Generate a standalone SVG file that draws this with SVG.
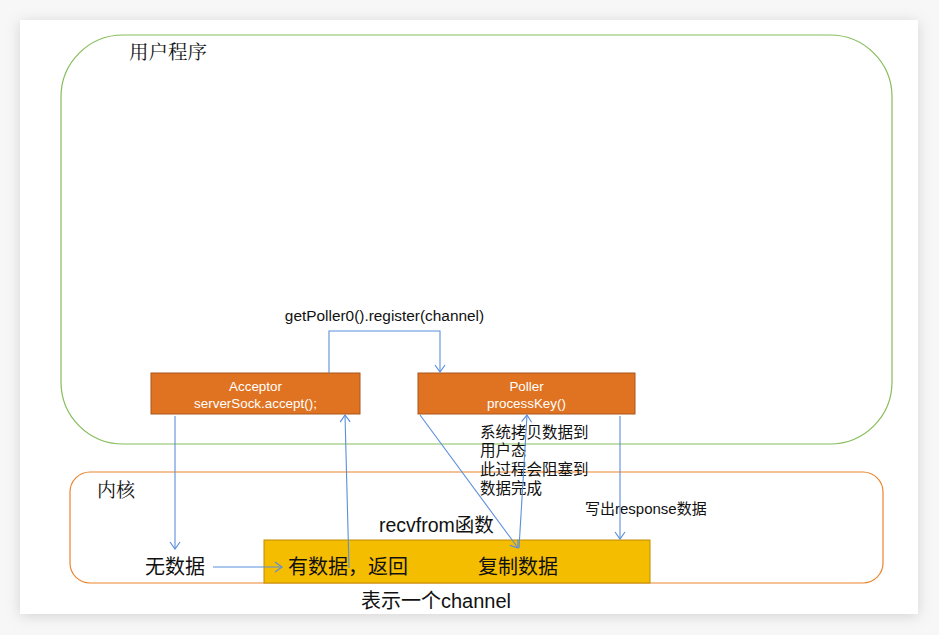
<svg xmlns="http://www.w3.org/2000/svg" width="939" height="635" viewBox="0 0 939 635">
<defs>
<filter id="sh" x="-10%" y="-10%" width="120%" height="120%"><feGaussianBlur stdDeviation="7"/></filter>
<marker id="ah" markerWidth="12" markerHeight="12" refX="10" refY="6" orient="auto" markerUnits="userSpaceOnUse"><path d="M3,1 L10,6 L3,11" fill="none" stroke="#5b8fdc" stroke-width="1.2"/></marker>
<style>
.cn{fill:none;stroke:#5b8fdc;stroke-width:1.1}
.ob{fill:#e07322;stroke:#a9561a;stroke-width:1}
.wt{font-family:"Liberation Sans","Noto Sans CJK SC",sans-serif;font-size:13.4px;fill:#fff;text-anchor:middle}
.t{font-family:"Liberation Sans","Noto Sans CJK SC",sans-serif;fill:#111}
.cj{font-family:"Noto Serif CJK SC","Noto Sans CJK SC",serif;fill:#111}
</style>
</defs>
<rect width="939" height="635" fill="#f7f7f7"/>
<rect x="20" y="22" width="898" height="594" fill="#bbb" filter="url(#sh)" opacity="0.6"/>
<rect x="20" y="20" width="898" height="594" fill="#fff"/>
<g id="user">
<rect x="61" y="35" width="831" height="409" rx="62" ry="62" fill="none" stroke="#86bd5a" stroke-width="1.2"/>
<text x="129" y="59" class="cj" font-size="19.5">用户程序</text>
</g>
<g id="kernel">
<rect x="70" y="472" width="813" height="111" rx="20" ry="20" fill="none" stroke="#e9852f" stroke-width="1.2"/>
<text x="97" y="497" class="cj" font-size="19">内核</text>
</g>
<g id="channel">
<rect x="264" y="540" width="386" height="43" fill="#f5bd00" stroke="#bf8c00" stroke-width="1"/>
<text x="288" y="574" class="t" font-size="20">有数据，返回</text>
<text x="478" y="574" class="t" font-size="20">复制数据</text>
</g>
<g id="acceptor">
<rect x="151" y="373" width="209" height="41" class="ob"/>
<text x="255.5" y="391" class="wt">Acceptor</text>
<text x="255.5" y="408" class="wt">serverSock.accept();</text>
</g>
<g id="poller">
<rect x="418" y="373" width="217" height="41" class="ob"/>
<text x="526.5" y="391" class="wt">Poller</text>
<text x="526.5" y="408" class="wt">processKey()</text>
</g>
<g id="labels">
<text x="384.5" y="321" class="t" font-size="15.4" text-anchor="middle">getPoller0().register(channel)</text>
<text class="t" font-size="15.5"><tspan x="480" y="438">系统拷贝数据到</tspan><tspan x="480" y="456">用户态</tspan><tspan x="480" y="475">此过程会阻塞到</tspan><tspan x="480" y="494">数据完成</tspan></text>
<text x="585" y="514" class="t" font-size="15">写出response数据</text>
<text x="379" y="532" class="t" font-size="19.5">recvfrom函数</text>
<text x="145" y="574" class="t" font-size="20">无数据</text>
<text x="361" y="608" class="t" font-size="20">表示一个channel</text>
</g>
<g id="connectors">
<path class="cn" d="M329,373 V331 H440 V372" marker-end="url(#ah)"/>
<path class="cn" d="M175,416 V549" marker-end="url(#ah)"/>
<path class="cn" d="M349,568 L345,415" marker-end="url(#ah)"/>
<path class="cn" d="M420,415 L518,548" marker-end="url(#ah)"/>
<path class="cn" d="M519,548 L527,415" marker-end="url(#ah)"/>
<path class="cn" d="M620,416 V539" marker-end="url(#ah)"/>
<path class="cn" d="M213,567 H282" marker-end="url(#ah)"/>
</g>
</svg>
